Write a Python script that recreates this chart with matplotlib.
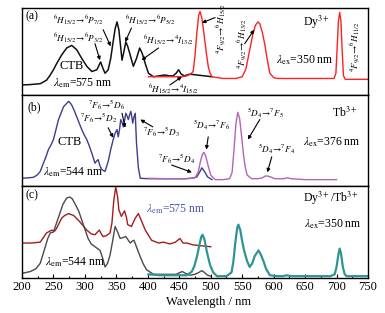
import matplotlib
matplotlib.use('Agg')
import matplotlib.pyplot as plt
from matplotlib.ticker import MultipleLocator

plt.rcParams['font.family'] = ['Liberation Serif', 'DejaVu Serif']
plt.rcParams['mathtext.fontset'] = 'stix'

# ---- data (wavelength nm, normalised intensity) ----
# (a) Dy3+
dy_exc_wl = [200, 213, 229, 239, 244, 250, 255, 263, 271, 279, 287, 295, 303, 311, 319, 325, 329, 332,
             337, 341, 344, 348, 351, 354, 356, 359, 362, 365, 368, 372, 377, 382, 387, 391, 396, 401,
             409, 418, 427, 434, 440, 445, 449, 453, 458, 467, 478, 490, 502]
dy_exc = [0.115, 0.12, 0.13, 0.17, 0.22, 0.29, 0.36, 0.46, 0.54, 0.57, 0.52, 0.42, 0.33, 0.27, 0.29, 0.38,
          0.30, 0.25, 0.29, 0.42, 0.57, 0.76, 0.84, 0.75, 0.61, 0.40, 0.50, 0.61, 0.56, 0.46, 0.33, 0.42,
          0.54, 0.48, 0.36, 0.25, 0.21, 0.22, 0.23, 0.22, 0.22, 0.25, 0.29, 0.24, 0.22, 0.24, 0.23, 0.22, 0.21]
dy_em_wl = [401, 420, 440, 455, 462, 468, 472, 475, 478, 481, 483, 486, 489, 491, 494, 496, 499, 502, 510,
            520, 540, 550, 556, 562, 567, 571, 575, 578, 582, 586, 590, 594, 600, 605, 640, 680, 696, 699,
            701, 703, 705, 707, 709, 711, 714, 750]
dy_em = [0.21, 0.21, 0.21, 0.21, 0.22, 0.24, 0.27, 0.45, 0.72, 0.92, 0.96, 0.88, 0.72, 0.60, 0.43, 0.33,
         0.25, 0.21, 0.20, 0.19, 0.19, 0.21, 0.30, 0.52, 0.70, 0.80, 0.84, 0.82, 0.72, 0.58, 0.40, 0.25,
         0.20, 0.19, 0.19, 0.19, 0.19, 0.25, 0.55, 0.85, 0.95, 0.85, 0.50, 0.22, 0.18, 0.18]

# (b) Tb3+
tb_exc_wl = [200, 210, 218, 224, 229, 234, 238, 242, 246, 250, 254, 258, 262, 266, 270, 274, 277, 279, 283,
             287, 291, 295, 299, 303, 307, 311, 316, 318, 321, 324, 327, 332, 337, 341, 345, 348, 351, 353,
             355, 357, 359, 361, 363, 365, 367, 369, 371, 373, 375, 376, 378, 380, 382, 385, 388, 400, 420,
             440, 460, 470, 478, 483, 486, 490, 495, 502]
tb_exc = [0.085, 0.09, 0.095, 0.12, 0.16, 0.25, 0.32, 0.40, 0.45, 0.51, 0.62, 0.73, 0.80, 0.87, 0.90, 0.93,
          0.91, 0.89, 0.83, 0.76, 0.69, 0.62, 0.56, 0.51, 0.44, 0.36, 0.25, 0.27, 0.29, 0.22, 0.18, 0.16,
          0.27, 0.40, 0.51, 0.58, 0.62, 0.54, 0.62, 0.73, 0.70, 0.65, 0.72, 0.80, 0.77, 0.73, 0.78, 0.82,
          0.74, 0.69, 0.76, 0.80, 0.47, 0.20, 0.085, 0.08, 0.08, 0.08, 0.08, 0.085, 0.10, 0.16, 0.20, 0.16,
          0.10, 0.07]
tb_em_wl = [400, 430, 460, 475, 480, 484, 487, 489, 492, 496, 500, 507, 520, 530, 534, 537, 540, 543, 546,
            549, 552, 555, 558, 565, 575, 582, 587, 590, 595, 602, 615, 622, 628, 650, 700]
tb_em = [0.085, 0.08, 0.08, 0.09, 0.15, 0.28, 0.35, 0.37, 0.33, 0.22, 0.12, 0.07, 0.07, 0.08, 0.15, 0.40,
         0.68, 0.81, 0.74, 0.55, 0.35, 0.20, 0.12, 0.08, 0.08, 0.09, 0.11, 0.11, 0.10, 0.08, 0.08, 0.09,
         0.08, 0.07, 0.07]

# (c) Dy3+/Tb3+
exc575_wl = [200, 215, 229, 239, 247, 252, 255, 263, 268, 274, 282, 292, 303, 310, 316, 320, 323, 326, 329,
             334, 340, 343, 346, 349, 352, 354, 358, 363, 366, 368, 374, 380, 385, 390, 396, 406, 417, 425,
             435, 444, 451, 456, 462, 472, 485, 500]
exc575 = [0.38, 0.38, 0.39, 0.49, 0.52, 0.51, 0.54, 0.65, 0.68, 0.70, 0.68, 0.61, 0.52, 0.48, 0.47, 0.50,
          0.52, 0.48, 0.45, 0.46, 0.49, 0.60, 0.85, 0.99, 0.88, 0.74, 0.67, 0.73, 0.66, 0.58, 0.56, 0.65,
          0.70, 0.62, 0.52, 0.41, 0.38, 0.39, 0.37, 0.39, 0.43, 0.38, 0.38, 0.36, 0.35, 0.34]
exc544_wl = [200, 213, 222, 229, 233, 237, 241, 245, 250, 255, 260, 265, 271, 276, 280, 284, 290, 295, 300,
             305, 310, 316, 324, 328, 332, 336, 340, 344, 348, 352, 356, 361, 365, 369, 372, 375, 378, 383,
             388, 393, 398, 409, 430, 445, 451, 455, 460, 467, 475, 481, 486, 490, 495, 500]
exc544 = [0.05, 0.07, 0.10, 0.16, 0.25, 0.34, 0.43, 0.49, 0.50, 0.60, 0.70, 0.80, 0.87, 0.88, 0.86, 0.81,
          0.73, 0.63, 0.53, 0.43, 0.37, 0.34, 0.30, 0.22, 0.12, 0.16, 0.25, 0.40, 0.56, 0.50, 0.43, 0.44,
          0.45, 0.41, 0.38, 0.40, 0.41, 0.32, 0.23, 0.15, 0.09, 0.04, 0.04, 0.04, 0.06, 0.07, 0.05, 0.03,
          0.04, 0.06, 0.08, 0.06, 0.03, 0.02]
em350_wl = [401, 420, 440, 462, 470, 474, 478, 482, 485, 487, 490, 494, 499, 504, 510, 525, 533, 536, 539,
            542, 544, 547, 550, 553, 558, 562, 566, 570, 574, 576, 580, 584, 588, 594, 605, 615, 621, 628,
            650, 690, 697, 700, 703, 705, 707, 710, 713, 716, 750]
em350 = [0.04, 0.03, 0.03, 0.03, 0.07, 0.13, 0.23, 0.36, 0.45, 0.47, 0.42, 0.28, 0.14, 0.06, 0.02, 0.02,
         0.06, 0.18, 0.38, 0.54, 0.58, 0.52, 0.40, 0.30, 0.18, 0.12, 0.16, 0.24, 0.28, 0.30, 0.25, 0.18,
         0.10, 0.03, 0.02, 0.02, 0.03, 0.02, 0.02, 0.02, 0.04, 0.12, 0.26, 0.32, 0.27, 0.12, 0.04, 0.02, 0.02]

# ---- figure ----
fig = plt.figure(figsize=(3.85, 3.13), dpi=100)
W, H = 385, 313
left, right = 22, 368


def panel(top, bottom):
    return fig.add_axes([left / W, 1 - bottom / H, (right - left) / W, (bottom - top) / H])


ax_a = panel(8, 95)
ax_b = panel(95, 186)
ax_c = panel(186, 278)

for ax in (ax_a, ax_b, ax_c):
    ax.set_xlim(200, 750)
    ax.set_ylim(0, 1)
    ax.set_yticks([])
    for s in ax.spines.values():
        s.set_linewidth(1.0)
for ax in (ax_a, ax_b):
    ax.set_xticks([])

fs = 8.5
tfs = 6.6
arrow = dict(arrowstyle='-|>', lw=0.8, color='black', mutation_scale=5, shrinkA=0, shrinkB=0)


def note(ax, xy, xytext):
    ax.annotate('', xy=xy, xytext=xytext, arrowprops=arrow)

# (a)
ax_a.plot(dy_exc_wl, dy_exc, color='#111111', lw=1.1)
ax_a.plot(dy_em_wl, dy_em, color='#ff2020', lw=1.0)
ax_a.text(206, 0.90, '(a)', fontsize=fs, va='center')
ax_a.text(249, 0.86, r'${}^6H_{15/2}\!\rightarrow\!{}^6P_{7/2}$', fontsize=tfs, va='center')
ax_a.text(249, 0.65, r'${}^6H_{15/2}\!\rightarrow\!{}^6P_{3/2}$', fontsize=tfs, va='center')
ax_a.text(364, 0.86, r'${}^6H_{15/2}\!\rightarrow\!{}^6P_{5/2}$', fontsize=tfs, va='center')
ax_a.text(392, 0.63, r'${}^6H_{15/2}\!\rightarrow\!{}^4I_{13/2}$', fontsize=tfs, va='center')
ax_a.text(400, 0.07, r'${}^6H_{15/2}\!\rightarrow\!{}^4I_{15/2}$', fontsize=tfs, va='center')
note(ax_a, (341, 0.56), (329, 0.75))
note(ax_a, (324, 0.40), (316, 0.59))
note(ax_a, (364, 0.61), (374, 0.77))
note(ax_a, (390, 0.40), (417, 0.54))
note(ax_a, (454, 0.21), (435, 0.115))
ax_a.text(260, 0.33, 'CTB', fontsize=fs + 0.5, va='center')
ax_a.text(249, 0.13, r'$\lambda_{\rm em}$=575 nm', fontsize=fs, va='center')
ax_a.text(690, 0.84, r'Dy$^{3+}$', fontsize=fs, va='center', ha='right')
ax_a.text(695, 0.40, r'$\lambda_{\rm ex}$=350 nm', fontsize=fs, va='center', ha='right')
ax_a.text(516, 0.76, r'${}^4F_{9/2}\!\rightarrow\!{}^6H_{15/2}$', fontsize=tfs, rotation=90,
          ha='center', va='center')
ax_a.text(550, 0.59, r'${}^4F_{9/2}\!\rightarrow\!{}^6H_{13/2}$', fontsize=tfs, rotation=90,
          ha='center', va='center')
ax_a.text(729, 0.55, r'${}^4F_{9/2}\!\rightarrow\!{}^6H_{11/2}$', fontsize=tfs, rotation=90,
          ha='center', va='center')
note(ax_a, (486, 0.83), (507, 0.89))
note(ax_a, (569, 0.75), (554, 0.59))

# (b)
ax_b.plot(tb_exc_wl, tb_exc, color='#3d3d8f', lw=1.0)
ax_b.plot(tb_em_wl, tb_em, color='#b464b4', lw=1.0)
ax_b.text(208, 0.86, '(b)', fontsize=fs, va='center')
ax_b.text(257, 0.48, 'CTB', fontsize=fs + 0.5, va='center')
ax_b.text(233, 0.15, r'$\lambda_{\rm em}$=544 nm', fontsize=fs, va='center')
ax_b.text(292, 0.74, r'${}^7F_6\!\rightarrow\!{}^5D_2$', fontsize=tfs, va='center')
ax_b.text(305, 0.89, r'${}^7F_6\!\rightarrow\!{}^5D_6$', fontsize=tfs, va='center')
ax_b.text(392, 0.59, r'${}^7F_6\!\rightarrow\!{}^5D_3$', fontsize=tfs, va='center')
ax_b.text(416, 0.29, r'${}^7F_6\!\rightarrow\!{}^5D_4$', fontsize=tfs, va='center')
ax_b.text(472, 0.67, r'${}^5D_4\!\rightarrow\!{}^7F_6$', fontsize=tfs, va='center')
ax_b.text(558, 0.80, r'${}^5D_4\!\rightarrow\!{}^7F_5$', fontsize=tfs, va='center')
ax_b.text(575, 0.40, r'${}^5D_4\!\rightarrow\!{}^7F_4$', fontsize=tfs, va='center')
note(ax_b, (345, 0.53), (337, 0.64))
note(ax_b, (364, 0.64), (359, 0.80))
note(ax_b, (388, 0.73), (408, 0.65))
note(ax_b, (470, 0.15), (438, 0.23))
note(ax_b, (493, 0.40), (496, 0.54))
note(ax_b, (559, 0.51), (578, 0.73))
note(ax_b, (590, 0.15), (597, 0.32))
ax_b.text(734, 0.80, r'Tb$^{3+}$', fontsize=fs, va='center', ha='right')
ax_b.text(738, 0.48, r'$\lambda_{\rm ex}$=376 nm', fontsize=fs, va='center', ha='right')

# (c)
ax_c.plot(exc575_wl, exc575, color='#a31d1d', lw=1.0)
ax_c.plot(exc544_wl, exc544, color='#4a4a4a', lw=1.0)
ax_c.plot(em350_wl, em350, color='#2e9494', lw=1.6)
ax_c.text(205, 0.90, '(c)', fontsize=fs, va='center')
ax_c.text(397, 0.75, r'$\lambda_{\rm em}$=575 nm', fontsize=fs, va='center', color='#4a55a8')
ax_c.text(237, 0.17, r'$\lambda_{\rm em}$=544 nm', fontsize=fs, va='center')
ax_c.text(736, 0.87, r'Dy$^{3+}$/Tb$^{3+}$', fontsize=fs, va='center', ha='right')
ax_c.text(740, 0.58, r'$\lambda_{\rm ex}$=350 nm', fontsize=fs, va='center', ha='right')

ax_c.xaxis.set_major_locator(MultipleLocator(50))
ax_c.xaxis.set_minor_locator(MultipleLocator(25))
ax_c.tick_params(axis='x', which='major', direction='in', length=3, width=0.8, labelsize=9, pad=2)
ax_c.tick_params(axis='x', which='minor', direction='in', length=1.5, width=0.8)
ax_c.set_xlabel('Wavelength / nm', fontsize=9, labelpad=1)
ax_c.xaxis.set_label_coords(0.54, -0.2)

fig.savefig('out.png', dpi=100)
